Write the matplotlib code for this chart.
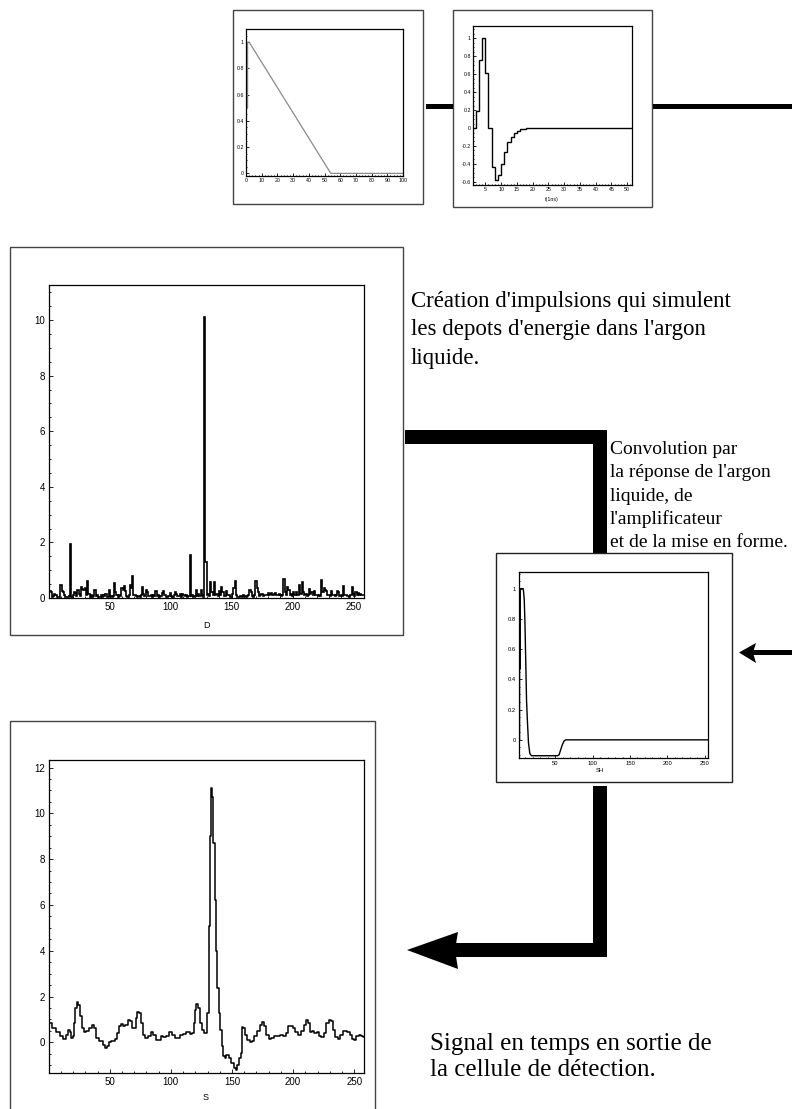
import matplotlib
matplotlib.use("Agg")
import matplotlib.pyplot as plt
from matplotlib.patches import Rectangle, Polygon
from matplotlib.ticker import MultipleLocator

plt.rcParams['font.family'] = ['Liberation Sans', 'DejaVu Sans']

# ---------------------------------------------------------------- data
# ionisation current in liquid argon (triangular pulse)
ramp_t = [0.0, 1.0, 1.0, 2.0, 54.0, 100.0]
ramp_v = [0.5, 0.5, 1.0, 1.0, 0.0, 0.0]

# preamplifier + shaper impulse response, one value per bin, bins start at t = 1
shaper_v = [0.0, 0.19, 0.76, 1.0, 0.61, 0.0, -0.435, -0.584, -0.528, -0.398,
            -0.265, -0.16, -0.097, -0.052, -0.03, -0.015, -0.008, -0.004, -0.002, 0.0,
            0.0, 0.0, 0.0, 0.0, 0.0, 0.0, 0.0, 0.0, 0.0, 0.0,
            0.0, 0.0, 0.0, 0.0, 0.0, 0.0, 0.0, 0.0, 0.0, 0.0,
            0.0, 0.0, 0.0, 0.0, 0.0, 0.0, 0.0, 0.0, 0.0, 0.0,
            0.0]

# energy deposits per sample (bins 1..258)
deposits = [
    0.24, 0.20, 0.05, 0.08, 0.15, 0.12, 0.04, 0.03, 0.05, 0.47,
    0.25, 0.20, 0.10, 0.05, 0.03, 0.04, 0.06, 1.95, 0.05, 0.10,
    0.20, 0.18, 0.08, 0.30, 0.15, 0.06, 0.40, 0.33, 0.30, 0.35,
    0.12, 0.60, 0.15, 0.05, 0.10, 0.04, 0.08, 0.27, 0.06, 0.10,
    0.04, 0.03, 0.10, 0.05, 0.12, 0.06, 0.13, 0.04, 0.05, 0.28,
    0.06, 0.04, 0.08, 0.55, 0.20, 0.10, 0.05, 0.10, 0.06, 0.37,
    0.30, 0.44, 0.25, 0.06, 0.04, 0.10, 0.47, 0.35, 0.78, 0.12,
    0.10, 0.06, 0.04, 0.08, 0.05, 0.10, 0.40, 0.15, 0.08, 0.28,
    0.20, 0.06, 0.08, 0.12, 0.05, 0.10, 0.06, 0.25, 0.08, 0.10,
    0.05, 0.08, 0.18, 0.25, 0.10, 0.12, 0.05, 0.08, 0.06, 0.18,
    0.08, 0.05, 0.10, 0.20, 0.15, 0.06, 0.08, 0.15, 0.05, 0.13,
    0.12, 0.08, 0.10, 0.05, 0.08, 1.53, 0.06, 0.10, 0.05, 0.08,
    0.28, 0.06, 0.15, 0.08, 0.28, 0.10, 0.05, 10.10, 1.30, 0.10,
    0.15, 0.08, 0.57, 0.20, 0.10, 0.57, 0.12, 0.15, 0.06, 0.25,
    0.10, 0.40, 0.20, 0.08, 0.06, 0.25, 0.10, 0.10, 0.05, 0.04,
    0.15, 0.35, 0.62, 0.10, 0.05, 0.03, 0.06, 0.08, 0.05, 0.10,
    0.08, 0.04, 0.06, 0.10, 0.27, 0.20, 0.08, 0.05, 0.10, 0.62,
    0.35, 0.20, 0.08, 0.10, 0.15, 0.06, 0.10, 0.12, 0.10, 0.18,
    0.10, 0.15, 0.18, 0.12, 0.15, 0.18, 0.10, 0.12, 0.15, 0.10,
    0.08, 0.10, 0.68, 0.20, 0.10, 0.38, 0.30, 0.10, 0.15, 0.08,
    0.20, 0.10, 0.22, 0.12, 0.10, 0.45, 0.15, 0.57, 0.20, 0.10,
    0.15, 0.08, 0.10, 0.33, 0.15, 0.20, 0.12, 0.25, 0.10, 0.12,
    0.08, 0.10, 0.06, 0.63, 0.20, 0.35, 0.30, 0.25, 0.12, 0.10,
    0.08, 0.25, 0.10, 0.12, 0.06, 0.10, 0.25, 0.20, 0.08, 0.10,
    0.06, 0.42, 0.10, 0.10, 0.06, 0.08, 0.05, 0.10, 0.40, 0.15,
    0.08, 0.20, 0.10, 0.18, 0.12, 0.15, 0.10, 0.12,
]

# total response SH (convolution of the two responses)
sh_t = [1.0, 2.0, 2.0, 3.0, 3.0, 7.0, 8.3, 9.2, 10.5, 11.4, 12.7, 14.0, 15.8,
        18.0, 52.7, 54.9, 57.1, 59.3, 61.5, 63.8, 256.0]
sh_v = [0.0, 0.0, 0.47, 0.47, 1.0, 1.0, 0.93, 0.79, 0.48, 0.26, 0.11, -0.02,
        -0.09, -0.105, -0.105, -0.10, -0.066, -0.033, -0.009, 0.0, 0.0]

# output signal S of the detection cell
s_t = [0.9, 5.0, 7.7, 10.4, 13.2, 15.0, 16.7, 18.0, 19.4, 20.5, 21.3, 22.2, 23.5,
       24.9, 26.3, 27.6, 29.5, 31.7, 34.4, 36.4, 37.7, 39.9, 43.2, 45.0, 46.7,
       48.0, 50.0, 52.7, 55.5, 56.8, 58.2, 59.6, 61.7, 63.6, 65.6, 67.7, 69.1,
       70.5, 71.8, 73.2, 74.6, 75.9, 78.1, 80.0, 82.2, 84.7, 86.8, 89.0, 91.0,
       92.8, 95.0, 97.2, 99.4, 101.9, 104.6, 106.5, 108.7, 111.4, 114.1, 116.9,
       118.2, 119.0, 120.1, 121.8, 123.1, 124.5, 126.4, 127.8, 129.4, 130.5,
       131.3, 132.2, 133.2, 134.1, 135.2, 136.2, 137.3, 138.7, 140.1, 140.9,
       142.0, 143.1, 144.7, 146.3, 148.3, 150.4, 152.3, 153.7, 155.1, 156.4,
       157.8, 158.6, 160.0, 161.4, 163.3, 165.4, 167.4, 169.3, 171.5, 173.6,
       175.5, 176.9, 179.1, 181.0, 183.2, 185.6, 188.4, 190.6, 193.3, 195.5,
       196.8, 198.7, 200.9, 202.8, 205.6, 207.8, 209.7, 211.0, 213.0, 214.6,
       216.5, 218.4, 220.0, 222.0, 223.9, 226.0, 228.2, 230.1, 232.0, 233.7,
       235.6, 237.8, 239.7, 242.4, 245.1, 247.3, 249.2, 250.6, 252.8, 254.7,
       256.6, 258.0]
s_v = [0.84, 0.63, 0.44, 0.26, 0.15, 0.33, 0.52, 0.44, 0.19, 0.26, 0.84, 1.50,
       1.75, 1.64, 1.14, 0.63, 0.44, 0.48, 0.63, 0.74, 0.63, 0.19, 0.04, -0.10,
       -0.25, -0.17, 0.0, 0.04, 0.15, 0.41, 0.70, 0.82, 0.70, 0.77, 0.99, 0.92,
       0.63, 0.63, 1.06, 1.31, 1.28, 0.84, 0.33, 0.19, 0.29, 0.44, 0.33, 0.09,
       0.09, 0.26, 0.23, 0.29, 0.44, 0.33, 0.19, 0.19, 0.33, 0.38, 0.44, 0.38,
       0.41, 0.84, 1.43, 1.69, 1.50, 0.84, 0.55, 0.41, 0.41, 1.28, 5.07, 9.00,
       11.10, 10.70, 8.70, 6.20, 3.97, 2.37, 1.28, 0.55, -0.17, -0.61, -0.68,
       -0.54, -0.68, -0.90, -1.12, -1.19, -0.98, -0.68, -0.47, 0.67, 0.63, 0.33,
       0.09, 0.0, 0.04, 0.26, 0.48, 0.77, 0.87, 0.73, 0.33, 0.15, 0.19, 0.26,
       0.29, 0.33, 0.26, 0.41, 0.73, 0.73, 0.63, 0.44, 0.33, 0.48, 0.77, 0.99,
       0.84, 0.44, 0.48, 0.41, 0.44, 0.29, 0.23, 0.41, 0.84, 0.99, 0.92, 0.55,
       0.23, 0.15, 0.33, 0.48, 0.45, 0.33, 0.15, 0.12, 0.26, 0.33, 0.29, 0.23]

text_deposits = ["Création d'impulsions qui simulent",
                 "les depots d'energie dans l'argon",
                 "liquide."]
text_convolution = ["Convolution par",
                    "la réponse de l'argon",
                    "liquide, de",
                    "l'amplificateur",
                    "et de la mise en forme."]
text_signal = ["Signal en temps en sortie de",
               "la cellule de détection."]

# ---------------------------------------------------------------- layout
W, H = 792, 1109
fig = plt.figure(figsize=(W / 100, H / 100), dpi=100)


def frac(x0, y0, x1, y1):
    return [x0 / W, 1 - y1 / H, (x1 - x0) / W, (y1 - y0) / H]


bg = fig.add_axes([0, 0, 1, 1])
bg.set_xlim(0, W)
bg.set_ylim(H, 0)
bg.axis('off')


def box(x0, y0, x1, y1, color='#444444', lw=1.0):
    bg.add_patch(Rectangle((x0, y0), x1 - x0, y1 - y0, fill=False,
                           ec=color, lw=lw, zorder=1))


def bar(x0, y0, x1, y1):
    bg.add_patch(Rectangle((x0, y0), x1 - x0, y1 - y0, fc='black',
                           ec='none', zorder=2))


# panel frames
box(233, 10, 423, 204)
box(453, 10, 652, 207)
box(10, 247, 403, 635)
box(496, 553, 732, 782, color='#222222')
box(10, 721, 375, 1130)

# connectors between the stages
bar(426, 104, 453, 109)
bar(653, 104, 792, 109)
bar(405, 430, 607, 444)
bar(593, 430, 607, 553)
bar(593, 786, 607, 957)
bar(455, 943, 607, 957)
bg.add_patch(Polygon([(407, 950), (458, 932), (455, 950), (458, 969)],
                     closed=True, fc='black', ec='none', zorder=2))
bar(752, 650, 792, 655)
bg.add_patch(Polygon([(739, 652.5), (756, 643), (753, 652.5), (756, 663)],
                     closed=True, fc='black', ec='none', zorder=2))

# descriptive texts
serif = ['Liberation Serif', 'DejaVu Serif']
for i, line in enumerate(text_deposits):
    bg.text(411, 307 + i * 28.5, line, fontsize=16.5, family=serif,
            va='baseline', ha='left')
for i, line in enumerate(text_convolution):
    bg.text(610, 454 + i * 23.3, line, fontsize=14, family=serif,
            va='baseline', ha='left')
for i, line in enumerate(text_signal):
    bg.text(430, 1050 + i * 26.5, line, fontsize=18, family=serif,
            va='baseline', ha='left')


def style(ax, fs, major, minor, pad):
    ax.tick_params(which='both', direction='in', top=False, right=False,
                   width=0.6, labelsize=fs, pad=pad)
    ax.tick_params(which='major', length=major)
    ax.tick_params(which='minor', length=minor)
    for s in ax.spines.values():
        s.set_linewidth(0.9)


# ramp
ax1 = fig.add_axes(frac(246, 29, 403, 176))
ax1.plot(ramp_t, ramp_v, color='#8a8a8a', lw=0.9)
ax1.set_xlim(0, 100)
ax1.set_ylim(-0.02, 1.10)
ax1.xaxis.set_major_locator(MultipleLocator(10))
ax1.xaxis.set_minor_locator(MultipleLocator(2))
ax1.yaxis.set_minor_locator(MultipleLocator(0.05))
ax1.set_yticks([0, 0.2, 0.4, 0.6, 0.8, 1.0], ['0', '0.2', '0.4', '0.6', '0.8', '1'])
style(ax1, 3.8, 2.2, 1.0, 1.5)

# shaper response
ax2 = fig.add_axes(frac(473, 26, 632, 185))
edges = list(range(1, len(shaper_v) + 2))
ax2.stairs(shaper_v, edges, color='black', lw=1.0, baseline=None)
ax2.set_xlim(1.1, 51.5)
ax2.set_ylim(-0.635, 1.137)
ax2.xaxis.set_major_locator(MultipleLocator(5))
ax2.xaxis.set_minor_locator(MultipleLocator(1))
ax2.set_yticks([-0.6, -0.4, -0.2, 0, 0.2, 0.4, 0.6, 0.8, 1.0],
               ['-0.6', '-0.4', '-0.2', '0', '0.2', '0.4', '0.6', '0.8', '1'])
ax2.yaxis.set_minor_locator(MultipleLocator(0.05))
style(ax2, 3.8, 2.2, 1.0, 1.5)

# deposits D
axd = fig.add_axes(frac(49, 285, 364, 598))
d_edges = [i + 0.5 for i in range(len(deposits) + 1)]
axd.stairs(deposits, d_edges, color='black', lw=1.2, baseline=None)
axd.set_xlim(0.2, 258.6)
axd.set_ylim(0, 11.26)
axd.set_xticks([50, 100, 150, 200, 250])
axd.xaxis.set_minor_locator(MultipleLocator(10))
axd.set_yticks([0, 2, 4, 6, 8, 10])
axd.yaxis.set_minor_locator(MultipleLocator(0.5))
style(axd, 7, 3.0, 1.5, 3)

# total response SH
axh = fig.add_axes(frac(519, 572, 708, 758))
axh.plot(sh_t, sh_v, color='black', lw=1.0)
axh.set_xlim(1.3, 254.5)
axh.set_ylim(-0.12, 1.11)
axh.set_xticks([50, 100, 150, 200, 250])
axh.xaxis.set_minor_locator(MultipleLocator(10))
axh.set_yticks([0, 0.2, 0.4, 0.6, 0.8, 1.0], ['0', '0.2', '0.4', '0.6', '0.8', '1'])
axh.yaxis.set_minor_locator(MultipleLocator(0.05))
style(axh, 4.2, 2.2, 1.0, 2)

# signal S
axs = fig.add_axes(frac(49, 760, 364, 1073))
axs.plot(s_t, s_v, color='black', lw=1.1, drawstyle='steps-mid')
axs.set_xlim(0.3, 258)
axs.set_ylim(-1.34, 12.33)
axs.set_xticks([50, 100, 150, 200, 250])
axs.xaxis.set_minor_locator(MultipleLocator(10))
axs.set_yticks([0, 2, 4, 6, 8, 10, 12])
axs.yaxis.set_minor_locator(MultipleLocator(0.5))
style(axs, 7, 3.0, 1.5, 3)

# axis titles
bg.text(206, 625, 'D', fontsize=6.5, ha='center', va='center')
bg.text(206, 1097, 'S', fontsize=6.5, ha='center', va='center')
bg.text(600, 771, 'SH', fontsize=4.2, ha='center', va='center')
bg.text(552, 200, 't(1ns)', fontsize=3.8, ha='center', va='center')

fig.savefig('out.png', dpi=100)
